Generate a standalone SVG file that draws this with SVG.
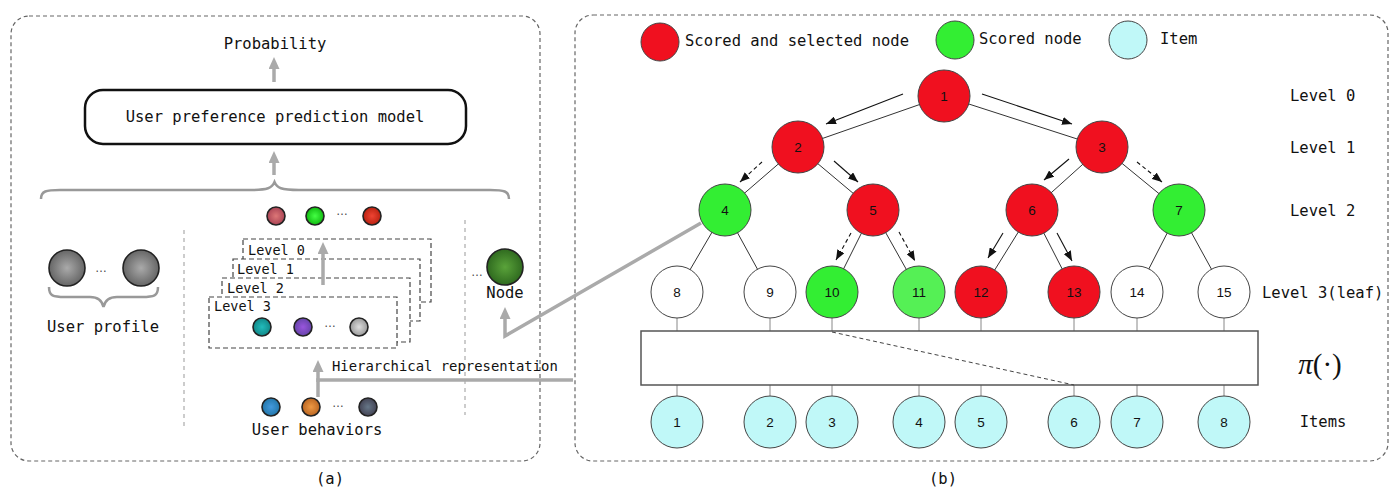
<svg xmlns="http://www.w3.org/2000/svg" width="1400" height="498" viewBox="0 0 1400 498">
<style>
.panel{fill:none;stroke:#666;stroke-width:1.2;stroke-dasharray:4 3}
.vdash{fill:none;stroke:#999;stroke-width:1;stroke-dasharray:4 4}
.stack{fill:#fff;stroke:#444;stroke-width:1.2;stroke-dasharray:5 3}
.t{font-family:"DejaVu Sans Mono","Liberation Mono",monospace;font-size:15.5px;fill:#111}
.ts{font-family:"DejaVu Sans Mono","Liberation Mono",monospace;font-size:13.5px;fill:#111}
.ell{font-family:"Liberation Sans",Arial,sans-serif;font-size:12px;fill:#444;text-anchor:middle;dominant-baseline:central}
.n{font-family:"Liberation Sans",Arial,sans-serif;font-size:13.5px;fill:#111;text-anchor:middle;dominant-baseline:central}
.mid{text-anchor:middle;dominant-baseline:central}
.st{dominant-baseline:central}
.g{fill:none;stroke:#aaa;stroke-width:3.5}
.brace{fill:none;stroke:#999;stroke-width:2.5}
.edge{stroke:#333;stroke-width:1}
.arr{stroke:#111;stroke-width:1.1;marker-end:url(#ta)}
.arrd{stroke:#111;stroke-width:1.1;stroke-dasharray:4 3;marker-end:url(#ta)}
.thin{stroke:#888;stroke-width:1}
.red{fill:#f0101f;stroke:#444;stroke-width:1}
.grn{fill:#33ee33;stroke:#444;stroke-width:1}
.grn2{fill:#55f055;stroke:#444;stroke-width:1}
.wht{fill:#fff;stroke:#444;stroke-width:1}
.cyn{fill:#c0f8f8;stroke:#444;stroke-width:1}
.dot{stroke:#222;stroke-width:1.6}
</style>
<defs>
<marker id="ga" markerUnits="userSpaceOnUse" viewBox="0 0 12 11" refX="1" refY="5.5" markerWidth="12" markerHeight="11" orient="auto"><path d="M0,0 L12,5.5 L0,11 z" fill="#aaa"/></marker>
<marker id="ta" markerUnits="userSpaceOnUse" viewBox="0 0 10 8" refX="10" refY="4" markerWidth="10" markerHeight="8" orient="auto"><path d="M0,0 L10,4 L0,8 z" fill="#111"/></marker>
<radialGradient id="gGray" cx="0.5" cy="0.5" r="0.5"><stop offset="0" stop-color="#aaa"/><stop offset="1" stop-color="#666"/></radialGradient>
<radialGradient id="gNode" cx="0.5" cy="0.5" r="0.5"><stop offset="0" stop-color="#5aa33a"/><stop offset="1" stop-color="#2f6a1f"/></radialGradient>
<radialGradient id="gPink" cx="0.5" cy="0.5" r="0.5"><stop offset="0" stop-color="#d77"/><stop offset="1" stop-color="#a45"/></radialGradient>
<radialGradient id="gGreen" cx="0.5" cy="0.5" r="0.5"><stop offset="0" stop-color="#4f4"/><stop offset="1" stop-color="#1b1"/></radialGradient>
<radialGradient id="gRed" cx="0.5" cy="0.5" r="0.5"><stop offset="0" stop-color="#e43"/><stop offset="1" stop-color="#b21"/></radialGradient>
<radialGradient id="gTeal" cx="0.5" cy="0.5" r="0.5"><stop offset="0" stop-color="#2bb"/><stop offset="1" stop-color="#188"/></radialGradient>
<radialGradient id="gPurp" cx="0.5" cy="0.5" r="0.5"><stop offset="0" stop-color="#95d"/><stop offset="1" stop-color="#64a"/></radialGradient>
<radialGradient id="gLg" cx="0.5" cy="0.5" r="0.5"><stop offset="0" stop-color="#ddd"/><stop offset="1" stop-color="#999"/></radialGradient>
<radialGradient id="gBlue" cx="0.5" cy="0.5" r="0.5"><stop offset="0" stop-color="#49d"/><stop offset="1" stop-color="#27a"/></radialGradient>
<radialGradient id="gOr" cx="0.5" cy="0.5" r="0.5"><stop offset="0" stop-color="#e94"/><stop offset="1" stop-color="#b62"/></radialGradient>
<radialGradient id="gSl" cx="0.5" cy="0.5" r="0.5"><stop offset="0" stop-color="#678"/><stop offset="1" stop-color="#445"/></radialGradient>
</defs>
<rect width="1400" height="498" fill="#fff"/>

<!-- Panel (a) -->
<g id="panel-a">
<rect class="panel" x="11" y="16" width="529" height="445" rx="18"/>
<text class="t mid" x="275" y="44">Probability</text>
<line x1="184" y1="230" x2="184" y2="427" class="vdash"/>
<line x1="465" y1="220" x2="465" y2="415" class="vdash"/>
<path class="brace" d="M41,199 C41,191 46,190 60,190 L250,190 C268,190 272,188 274.5,182 C277,188 281,190 299,190 L490,190 C504,190 509,191 509,199"/>
</g>

<g id="model">
<rect x="85" y="90" width="381" height="54" rx="18" fill="#fff" stroke="#111" stroke-width="2.5"/>
<text class="t mid" x="275" y="117">User preference prediction model</text>
</g>

<g id="user-profile">
<circle cx="67" cy="268" r="18" fill="url(#gGray)" class="dot"/>
<circle cx="141" cy="268" r="18" fill="url(#gGray)" class="dot"/>
<text class="ell" x="101" y="268">…</text>
<path class="brace" d="M49,287 C49,296 53,297 65,297 L90,297 C98,297 102,300 103.5,307 C105,300 109,297 117,297 L142,297 C154,297 158,296 158,287"/>
<text class="t mid" x="103" y="327">User profile</text>
</g>

<g id="hier-repr">
<circle cx="276" cy="216" r="9" fill="url(#gPink)" class="dot"/>
<circle cx="315" cy="216" r="9" fill="url(#gGreen)" class="dot"/>
<text class="ell" x="342" y="211">…</text>
<circle cx="372" cy="216" r="9" fill="url(#gRed)" class="dot"/>
<rect class="stack" x="243" y="239" width="188" height="63"/>
<text class="ts st" x="248" y="250">Level 0</text>
<rect class="stack" x="233" y="259" width="187" height="62"/>
<text class="ts st" x="237" y="269">Level 1</text>
<rect class="stack" x="222" y="278" width="188" height="64"/>
<text class="ts st" x="227" y="288">Level 2</text>
<rect class="stack" x="209" y="297" width="188" height="51"/>
<text class="ts st" x="214" y="306">Level 3</text>
<circle cx="262" cy="327" r="9" fill="url(#gTeal)" class="dot"/>
<circle cx="303" cy="327" r="9" fill="url(#gPurp)" class="dot"/>
<text class="ell" x="330" y="323">…</text>
<circle cx="359" cy="327" r="9" fill="url(#gLg)" class="dot"/>
</g>

<g id="user-behaviors">
<circle cx="271" cy="407" r="9" fill="url(#gBlue)" class="dot"/>
<circle cx="311" cy="407" r="9" fill="url(#gOr)" class="dot"/>
<text class="ell" x="338" y="403">…</text>
<circle cx="368" cy="407" r="9" fill="url(#gSl)" class="dot"/>
<text class="t mid" x="317" y="430">User behaviors</text>
</g>

<g id="node-emb">
<text class="ell" x="477" y="272">…</text>
<circle cx="505" cy="267" r="18" fill="url(#gNode)" class="dot"/>
<text class="t mid" x="505" y="293">Node</text>
</g>

<text class="st" x="332" y="366" style="font-family:'DejaVu Sans Mono','Liberation Mono',monospace;font-size:13.9px;fill:#111">Hierarchical representation</text>

<!-- Panel (b) -->
<g id="panel-b">
<rect class="panel" x="575" y="15" width="813" height="446" rx="18"/>
</g>

<g id="legend">
<circle cx="660" cy="42" r="19" class="red"/>
<text class="t st" x="685" y="41">Scored and selected node</text>
<circle cx="955" cy="40" r="19" class="grn"/>
<text class="t st" x="979" y="39">Scored node</text>
<circle cx="1128" cy="40" r="19" class="cyn"/>
<text class="t st" x="1160" y="39">Item</text>
</g>

<g id="level-labels">
<text class="t st" x="1290" y="96">Level 0</text>
<text class="t st" x="1290" y="148">Level 1</text>
<text class="t st" x="1290" y="211">Level 2</text>
<text class="t st" x="1262" y="293">Level 3(leaf)</text>
<text x="1320" y="364" text-anchor="middle" dominant-baseline="central" font-family="Liberation Serif,serif" font-size="29" fill="#111"><tspan font-style="italic">π</tspan>(·)</text>
<text class="t mid" x="1323" y="422">Items</text>
</g>

<!-- connectors -->
<g id="connectors">
<line class="g" x1="274" y1="82" x2="274" y2="68" marker-end="url(#ga)"/>
<line class="g" x1="274" y1="175" x2="274" y2="162" marker-end="url(#ga)"/>
<line class="g" x1="323" y1="285" x2="323" y2="253" marker-end="url(#ga)"/>
<polyline class="g" points="573,380 318,380 318,397"/>
<line class="g" x1="318" y1="382" x2="318" y2="371" marker-end="url(#ga)"/>
<polyline class="g" points="701,223 505,336 505,318" marker-end="url(#ga)"/>

<line class="edge" x1="944" y1="96" x2="798" y2="147"/>
<line class="edge" x1="944" y1="96" x2="1102" y2="147"/>
<line class="edge" x1="798" y1="147" x2="725" y2="210"/>
<line class="edge" x1="798" y1="147" x2="873" y2="210"/>
<line class="edge" x1="1102" y1="147" x2="1032" y2="210"/>
<line class="edge" x1="1102" y1="147" x2="1179" y2="210"/>
<line class="edge" x1="725" y1="210" x2="677" y2="292"/>
<line class="edge" x1="725" y1="210" x2="770" y2="292"/>
<line class="edge" x1="873" y1="210" x2="832" y2="292"/>
<line class="edge" x1="873" y1="210" x2="919" y2="292"/>
<line class="edge" x1="1032" y1="210" x2="981" y2="292"/>
<line class="edge" x1="1032" y1="210" x2="1074" y2="292"/>
<line class="edge" x1="1179" y1="210" x2="1137" y2="292"/>
<line class="edge" x1="1179" y1="210" x2="1224" y2="292"/>

<line class="arr" x1="903" y1="94" x2="826" y2="124"/>
<line class="arr" x1="982" y1="94" x2="1072" y2="124"/>
<line class="arrd" x1="762" y1="162" x2="740" y2="182"/>
<line class="arr" x1="834" y1="161" x2="858" y2="182"/>
<line class="arr" x1="1069" y1="159" x2="1044" y2="180"/>
<line class="arrd" x1="1137" y1="162" x2="1162" y2="182"/>
<line class="arrd" x1="851" y1="233" x2="836" y2="260"/>
<line class="arrd" x1="899" y1="232" x2="915" y2="261"/>
<line class="arr" x1="1003" y1="233" x2="988" y2="258"/>
<line class="arr" x1="1057" y1="233" x2="1072" y2="261"/>

<line class="thin" x1="677" y1="318" x2="677" y2="331"/>
<line class="thin" x1="770" y1="318" x2="770" y2="331"/>
<line class="thin" x1="832" y1="318" x2="832" y2="331"/>
<line class="thin" x1="919" y1="318" x2="919" y2="331"/>
<line class="thin" x1="981" y1="318" x2="981" y2="331"/>
<line class="thin" x1="1074" y1="318" x2="1074" y2="331"/>
<line class="thin" x1="1137" y1="318" x2="1137" y2="331"/>
<line class="thin" x1="1224" y1="318" x2="1224" y2="331"/>
<line class="thin" x1="677" y1="385" x2="677" y2="396"/>
<line class="thin" x1="770" y1="385" x2="770" y2="396"/>
<line class="thin" x1="832" y1="385" x2="832" y2="396"/>
<line class="thin" x1="919" y1="385" x2="919" y2="396"/>
<line class="thin" x1="981" y1="385" x2="981" y2="396"/>
<line class="thin" x1="1074" y1="385" x2="1074" y2="396"/>
<line class="thin" x1="1137" y1="385" x2="1137" y2="396"/>
<line class="thin" x1="1224" y1="385" x2="1224" y2="396"/>
</g>

<g id="pi-box">
<rect x="641" y="331" width="617" height="54" fill="#fff" stroke="#555" stroke-width="1.5"/>
<line x1="832" y1="332" x2="1074" y2="385" stroke="#444" stroke-width="1" stroke-dasharray="4 3"/>
</g>

<g id="tn1"><circle cx="944" cy="96" r="26" class="red"/><text class="n" x="944" y="96">1</text></g>
<g id="tn2"><circle cx="798" cy="147" r="26" class="red"/><text class="n" x="798" y="147">2</text></g>
<g id="tn3"><circle cx="1102" cy="147" r="26" class="red"/><text class="n" x="1102" y="147">3</text></g>
<g id="tn4"><circle cx="725" cy="210" r="26" class="grn"/><text class="n" x="725" y="210">4</text></g>
<g id="tn5"><circle cx="873" cy="210" r="26" class="red"/><text class="n" x="873" y="210">5</text></g>
<g id="tn6"><circle cx="1032" cy="210" r="26" class="red"/><text class="n" x="1032" y="210">6</text></g>
<g id="tn7"><circle cx="1179" cy="210" r="26" class="grn"/><text class="n" x="1179" y="210">7</text></g>
<g id="tn8"><circle cx="677" cy="292" r="26" class="wht"/><text class="n" x="677" y="292">8</text></g>
<g id="tn9"><circle cx="770" cy="292" r="26" class="wht"/><text class="n" x="770" y="292">9</text></g>
<g id="tn10"><circle cx="832" cy="292" r="26" class="grn"/><text class="n" x="832" y="292">10</text></g>
<g id="tn11"><circle cx="919" cy="292" r="26" class="grn2"/><text class="n" x="919" y="292">11</text></g>
<g id="tn12"><circle cx="981" cy="292" r="26" class="red"/><text class="n" x="981" y="292">12</text></g>
<g id="tn13"><circle cx="1074" cy="292" r="26" class="red"/><text class="n" x="1074" y="292">13</text></g>
<g id="tn14"><circle cx="1137" cy="292" r="26" class="wht"/><text class="n" x="1137" y="292">14</text></g>
<g id="tn15"><circle cx="1224" cy="292" r="26" class="wht"/><text class="n" x="1224" y="292">15</text></g>

<g id="item1"><circle cx="677" cy="422" r="26" class="cyn"/><text class="n" x="677" y="422">1</text></g>
<g id="item2"><circle cx="770" cy="422" r="26" class="cyn"/><text class="n" x="770" y="422">2</text></g>
<g id="item3"><circle cx="832" cy="422" r="26" class="cyn"/><text class="n" x="832" y="422">3</text></g>
<g id="item4"><circle cx="919" cy="422" r="26" class="cyn"/><text class="n" x="919" y="422">4</text></g>
<g id="item5"><circle cx="981" cy="422" r="26" class="cyn"/><text class="n" x="981" y="422">5</text></g>
<g id="item6"><circle cx="1074" cy="422" r="26" class="cyn"/><text class="n" x="1074" y="422">6</text></g>
<g id="item7"><circle cx="1137" cy="422" r="26" class="cyn"/><text class="n" x="1137" y="422">7</text></g>
<g id="item8"><circle cx="1224" cy="422" r="26" class="cyn"/><text class="n" x="1224" y="422">8</text></g>

<text class="t mid" x="330" y="479">(a)</text>
<text class="t mid" x="943" y="479">(b)</text>
</svg>
